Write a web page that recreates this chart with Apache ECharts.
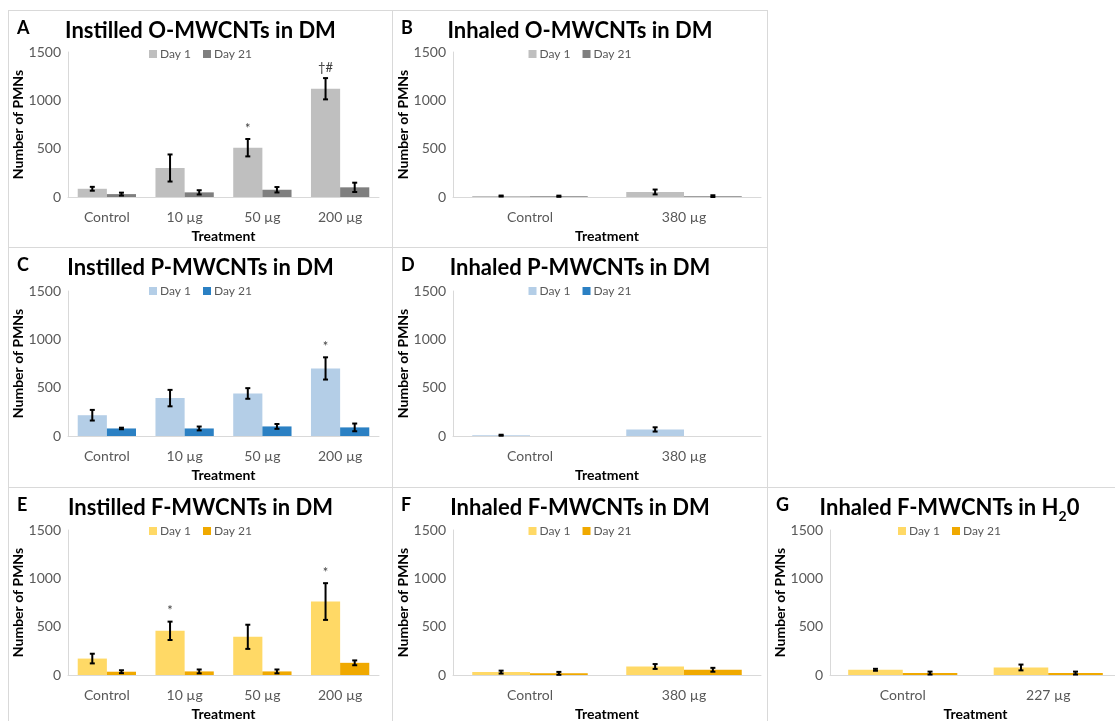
<!DOCTYPE html>
<html><head><meta charset="utf-8">
<script src="https://cdn.jsdelivr.net/npm/echarts@6/dist/echarts.min.js"></script>
<style>
html,body{margin:0;padding:0;background:#fff;width:1115px;height:721px;overflow:hidden;}
.p{position:absolute;box-sizing:border-box;border:1px solid #d9d9d9;background:#fff;}
</style></head><body>
<div id="pA" class="p" style="left:8px;top:10px;width:385px;height:238px;"></div>
<div id="pB" class="p" style="left:392px;top:10px;width:376px;height:238px;"></div>
<div id="pC" class="p" style="left:8px;top:247px;width:385px;height:241px;"></div>
<div id="pD" class="p" style="left:392px;top:247px;width:376px;height:241px;"></div>
<div id="pE" class="p" style="left:8px;top:487px;width:385px;height:241px;"></div>
<div id="pF" class="p" style="left:392px;top:487px;width:376px;height:241px;"></div>
<div id="pG" class="p" style="left:767px;top:487px;width:365px;height:241px;"></div>
<script>
// ---- categories ----
const catsInstilled = ['Control', '10 µg', '50 µg', '200 µg'];
const catsInhaled380 = ['Control', '380 µg'];
const catsInhaled227 = ['Control', '227 µg'];
const seriesNames = ['Day 1', 'Day 21'];

// ---- A: Instilled O-MWCNTs in DM ----
const A_day1 = [85, 300, 510, 1120];
const A_day1Err = [20, 140, 90, 110];
const A_day21 = [30, 48, 75, 100];
const A_day21Err = [15, 22, 28, 48];
const A_annot = ['', '', '*', '†#'];

// ---- B: Inhaled O-MWCNTs in DM ----
const B_day1 = [10, 52];
const B_day1Err = [5, 25];
const B_day21 = [8, 8];
const B_day21Err = [6, 10];

// ---- C: Instilled P-MWCNTs in DM ----
const C_day1 = [215, 392, 440, 699];
const C_day1Err = [55, 85, 55, 115];
const C_day21 = [78, 78, 99, 89];
const C_day21Err = [8, 20, 25, 40];
const C_annot = ['', '', '', '*'];

// ---- D: Inhaled P-MWCNTs in DM ----
const D_day1 = [8, 68];
const D_day1Err = [5, 22];
const D_day21 = [0, 0];
const D_day21Err = [0, 0];

// ---- E: Instilled F-MWCNTs in DM ----
const E_day1 = [170, 457, 395, 760];
const E_day1Err = [50, 95, 125, 190];
const E_day21 = [34, 37, 37, 126];
const E_day21Err = [15, 20, 20, 25];
const E_annot = ['', '*', '', '*'];

// ---- F: Inhaled F-MWCNTs in DM ----
const F_day1 = [30, 88];
const F_day1Err = [15, 25];
const F_day21 = [17, 54];
const F_day21Err = [15, 20];

// ---- G: Inhaled F-MWCNTs in H2O ----
const G_day1 = [54, 78];
const G_day1Err = [10, 30];
const G_day21 = [20, 20];
const G_day21Err = [15, 15];

const colO = ['#bfbfbf', '#7f7f7f'];
const colP = ['#b4cee7', '#2b80c3'];
const colF = ['#ffd966', '#f0a900'];

const FONT = 'Lato, "Open Sans", sans-serif';
const CAT_GAP = 0.25;

function errSeries(idx, vals, errs, annot) {
  const data = vals.map((v, i) => [i, v, errs[i], annot ? annot[i] : '']);
  return {
    type: 'custom', z: 10, silent: true,
    data: data,
    encode: { x: 0, y: 1 },
    renderItem: function (params, api) {
      const i = api.value(0), v = api.value(1), e = api.value(2);
      const lab = data[params.dataIndex][3];
      const c = api.coord([i, v]);
      const bandW = api.size([1, 0])[0];
      const bw = bandW * (1 - CAT_GAP) / 2;
      const x = c[0] + (idx === 0 ? -bw / 2 : bw / 2);
      const children = [];
      let topY = c[1];
      if (e > 0) {
        const hi = api.coord([i, v + e])[1];
        const lo = api.coord([i, Math.max(0, v - e)])[1];
        topY = hi;
        const st = { stroke: '#000', lineWidth: 2 };
        children.push({ type: 'line', shape: { x1: x, y1: hi, x2: x, y2: lo }, style: st });
        children.push({ type: 'line', shape: { x1: x - 2.5, y1: hi, x2: x + 2.5, y2: hi }, style: st });
        children.push({ type: 'line', shape: { x1: x - 2.5, y1: lo, x2: x + 2.5, y2: lo }, style: st });
      }
      if (lab) {
        children.push({ type: 'text', style: { text: lab, x: x, y: topY - 4, align: 'center', verticalAlign: 'bottom', fill: '#404040', font: '13px ' + FONT } });
      }
      return { type: 'group', children: children };
    }
  };
}

function makePanel(id, cfg) {
  const el = document.getElementById(id);
  const chart = echarts.init(el, null, { renderer: 'canvas' });
  const titleRich = {
    t: { fontSize: 22, fontWeight: 'bold', color: '#000', fontFamily: FONT },
    s: { fontSize: 14, fontWeight: 'bold', color: '#000', fontFamily: FONT, verticalAlign: 'bottom', padding: [0, 0, -4, 0] }
  };
  chart.setOption({
    animation: false,
    textStyle: { fontFamily: FONT },
    title: [
      { text: cfg.title, left: 'center', top: 4, textStyle: { fontSize: 22, fontWeight: 'bold', color: '#000', fontFamily: FONT, rich: titleRich } },
      { text: cfg.letter, left: 3, top: 3, textStyle: { fontSize: 18, fontWeight: 'bold', color: '#000', fontFamily: FONT } }
    ],
    legend: {
      data: seriesNames, top: 32, left: cfg.legendLeft || 'center',
      itemWidth: 8, itemHeight: 8, itemGap: 12, icon: 'rect',
      textStyle: { fontSize: 12, color: '#595959', padding: [0, 0, 0, -2] }
    },
    grid: Object.assign({ outerBoundsMode: 'none', containLabel: false }, cfg.grid),
    xAxis: {
      type: 'category', data: cfg.cats,
      name: 'Treatment', nameLocation: 'middle', nameGap: 32, nameMoveOverlap: false,
      nameTextStyle: { fontSize: 14, fontWeight: 'bold', color: '#000' },
      axisLine: { lineStyle: { color: '#d9d9d9', width: 1 } },
      axisTick: { show: false },
      axisLabel: { fontSize: 14, color: '#595959', margin: 13 }
    },
    yAxis: {
      type: 'value', min: 0, max: 1500, interval: 500,
      name: 'Number of PMNs', nameLocation: 'middle', nameGap: 43, nameRotate: 90, nameMoveOverlap: false,
      nameTextStyle: { fontSize: 14, fontWeight: 'bold', color: '#000' },
      axisLine: { show: true, lineStyle: { color: '#d9d9d9', width: 1 } },
      axisTick: { show: false },
      splitLine: { show: false },
      axisLabel: { fontSize: 14, color: '#595959', margin: 7, formatter: function (v) { return String(v); } }
    },
    series: [
      { name: 'Day 1', type: 'bar', data: cfg.d1, barGap: '0%', barCategoryGap: (CAT_GAP * 100) + '%', itemStyle: { color: cfg.colors[0] } },
      { name: 'Day 21', type: 'bar', data: cfg.d21, barGap: '0%', barCategoryGap: (CAT_GAP * 100) + '%', itemStyle: { color: cfg.colors[1] } },
      errSeries(0, cfg.d1, cfg.e1, cfg.annot),
      errSeries(1, cfg.d21, cfg.e21, null)
    ]
  });
}

makePanel('pA', { letter: 'A', title: 'Instilled O-MWCNTs in DM', cats: catsInstilled, d1: A_day1, e1: A_day1Err, d21: A_day21, e21: A_day21Err, annot: A_annot, colors: colO, grid: { left: 59, right: 13, top: 41, bottom: 50 } });
makePanel('pB', { letter: 'B', title: 'Inhaled O-MWCNTs in DM', cats: catsInhaled380, d1: B_day1, e1: B_day1Err, d21: B_day21, e21: B_day21Err, colors: colO, grid: { left: 60, right: 6, top: 41, bottom: 50 } });
makePanel('pC', { letter: 'C', title: 'Instilled P-MWCNTs in DM', cats: catsInstilled, d1: C_day1, e1: C_day1Err, d21: C_day21, e21: C_day21Err, annot: C_annot, colors: colP, grid: { left: 59, right: 13, top: 43, bottom: 51 } });
makePanel('pD', { letter: 'D', title: 'Inhaled P-MWCNTs in DM', cats: catsInhaled380, d1: D_day1, e1: D_day1Err, d21: D_day21, e21: D_day21Err, colors: colP, grid: { left: 60, right: 6, top: 43, bottom: 51 } });
makePanel('pE', { letter: 'E', title: 'Instilled F-MWCNTs in DM', cats: catsInstilled, d1: E_day1, e1: E_day1Err, d21: E_day21, e21: E_day21Err, annot: E_annot, colors: colF, grid: { left: 59, right: 13, top: 42, bottom: 52 } });
makePanel('pF', { letter: 'F', title: 'Inhaled F-MWCNTs in DM', cats: catsInhaled380, d1: F_day1, e1: F_day1Err, d21: F_day21, e21: F_day21Err, colors: colF, grid: { left: 60, right: 6, top: 42, bottom: 52 } });
makePanel('pG', { letter: 'G', title: '{t|Inhaled F-MWCNTs in H}{s|2}{t|0}', cats: catsInhaled227, d1: G_day1, e1: G_day1Err, d21: G_day21, e21: G_day21Err, colors: colF, grid: { left: 62, right: 10, top: 42, bottom: 52 } });
</script>
</body></html>
